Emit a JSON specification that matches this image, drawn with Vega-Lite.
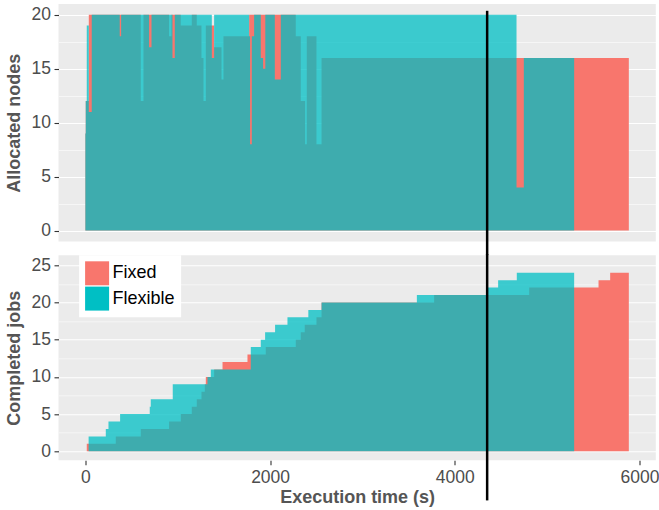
{
  "$schema": "https://vega.github.io/schema/vega-lite/v6.json",
  "padding": {"left": 4.5, "top": 4, "right": 2, "bottom": 4},
  "background": "white",
  "datasets": {
    "alloc": [
      {"t": 0, "n": 9, "type": "Fixed"}, {"t": 4, "n": 12, "type": "Fixed"}, {"t": 37, "n": 20, "type": "Fixed"},
      {"t": 600, "n": 12, "type": "Fixed"}, {"t": 629, "n": 20, "type": "Fixed"}, {"t": 906, "n": 18, "type": "Fixed"},
      {"t": 932, "n": 20, "type": "Fixed"}, {"t": 1033, "n": 19, "type": "Fixed"}, {"t": 1152, "n": 20, "type": "Fixed"},
      {"t": 1206, "n": 19, "type": "Fixed"}, {"t": 1257, "n": 16, "type": "Fixed"}, {"t": 1279, "n": 12, "type": "Fixed"},
      {"t": 1304, "n": 19, "type": "Fixed"}, {"t": 1394, "n": 17, "type": "Fixed"}, {"t": 1474, "n": 14, "type": "Fixed"},
      {"t": 1495, "n": 18, "type": "Fixed"}, {"t": 1773, "n": 20, "type": "Fixed"}, {"t": 2278, "n": 18, "type": "Fixed"},
      {"t": 2332, "n": 12, "type": "Fixed"}, {"t": 2379, "n": 8, "type": "Fixed"}, {"t": 2397, "n": 18, "type": "Fixed"},
      {"t": 2502, "n": 8, "type": "Fixed"}, {"t": 2557, "n": 16, "type": "Fixed"}, {"t": 5884, "n": 16, "type": "Fixed"},
      {"t": 0, "n": 9, "type": "Flexible"}, {"t": 4, "n": 12, "type": "Flexible"}, {"t": 15, "n": 19, "type": "Flexible"},
      {"t": 37, "n": 11, "type": "Flexible"}, {"t": 69, "n": 20, "type": "Flexible"}, {"t": 372, "n": 18, "type": "Flexible"},
      {"t": 387, "n": 20, "type": "Flexible"}, {"t": 690, "n": 17, "type": "Flexible"}, {"t": 716, "n": 20, "type": "Flexible"},
      {"t": 943, "n": 16, "type": "Flexible"}, {"t": 968, "n": 20, "type": "Flexible"}, {"t": 1369, "n": 16, "type": "Flexible"},
      {"t": 1394, "n": 20, "type": "Flexible"}, {"t": 1773, "n": 18, "type": "Flexible"}, {"t": 1783, "n": 8, "type": "Flexible"},
      {"t": 1802, "n": 18, "type": "Flexible"}, {"t": 1827, "n": 20, "type": "Flexible"}, {"t": 1899, "n": 16, "type": "Flexible"},
      {"t": 1924, "n": 15, "type": "Flexible"}, {"t": 1948, "n": 20, "type": "Flexible"}, {"t": 2051, "n": 14, "type": "Flexible"},
      {"t": 2116, "n": 20, "type": "Flexible"}, {"t": 4668, "n": 4, "type": "Flexible"}, {"t": 4747, "n": 16, "type": "Flexible"},
      {"t": 5292, "n": 16, "type": "Flexible"}
    ],
    "jobs": [
      {"t": 0, "c": 0, "type": "Fixed"}, {"t": 15, "c": 1, "type": "Fixed"}, {"t": 329, "c": 2, "type": "Fixed"},
      {"t": 600, "c": 3, "type": "Fixed"}, {"t": 906, "c": 4, "type": "Fixed"}, {"t": 1033, "c": 5, "type": "Fixed"},
      {"t": 1152, "c": 6, "type": "Fixed"}, {"t": 1206, "c": 7, "type": "Fixed"}, {"t": 1257, "c": 8, "type": "Fixed"},
      {"t": 1293, "c": 9, "type": "Fixed"}, {"t": 1304, "c": 10, "type": "Fixed"}, {"t": 1394, "c": 11, "type": "Fixed"},
      {"t": 1485, "c": 12, "type": "Fixed"}, {"t": 1755, "c": 13, "type": "Fixed"}, {"t": 1953, "c": 14, "type": "Fixed"},
      {"t": 2278, "c": 15, "type": "Fixed"}, {"t": 2332, "c": 16, "type": "Fixed"}, {"t": 2375, "c": 17, "type": "Fixed"},
      {"t": 2502, "c": 18, "type": "Fixed"}, {"t": 2557, "c": 20, "type": "Fixed"}, {"t": 3776, "c": 21, "type": "Fixed"},
      {"t": 4805, "c": 22, "type": "Fixed"}, {"t": 5556, "c": 23, "type": "Fixed"}, {"t": 5682, "c": 24, "type": "Fixed"},
      {"t": 5884, "c": 24, "type": "Fixed"},
      {"t": 0, "c": 0, "type": "Flexible"}, {"t": 35, "c": 2, "type": "Flexible"}, {"t": 221, "c": 3, "type": "Flexible"},
      {"t": 250, "c": 4, "type": "Flexible"}, {"t": 376, "c": 5, "type": "Flexible"}, {"t": 697, "c": 6, "type": "Flexible"},
      {"t": 708, "c": 7, "type": "Flexible"}, {"t": 946, "c": 9, "type": "Flexible"}, {"t": 1322, "c": 10, "type": "Flexible"},
      {"t": 1358, "c": 11, "type": "Flexible"}, {"t": 1791, "c": 14, "type": "Flexible"}, {"t": 1899, "c": 15, "type": "Flexible"},
      {"t": 1946, "c": 16, "type": "Flexible"}, {"t": 2054, "c": 17, "type": "Flexible"}, {"t": 2188, "c": 18, "type": "Flexible"},
      {"t": 2414, "c": 19, "type": "Flexible"}, {"t": 2557, "c": 20, "type": "Flexible"}, {"t": 3589, "c": 21, "type": "Flexible"},
      {"t": 4350, "c": 22, "type": "Flexible"}, {"t": 4469, "c": 23, "type": "Flexible"}, {"t": 4671, "c": 24, "type": "Flexible"},
      {"t": 5292, "c": 24, "type": "Flexible"}
    ],
    "marker": [{"t": 4350}]
  },
  "config": {
    "font": "Liberation Sans",
    "view": {"fill": "#EBEBEB", "stroke": null},
    "axis": {
      "gridColor": "white", "gridWidth": 1.1, "domain": false,
      "tickColor": "#333333", "tickSize": 4.5, "tickWidth": 1.1,
      "labelFont": "Liberation Sans", "labelFontSize": 17.5, "labelColor": "#4D4D4D", "labelPadding": 3.6,
      "titleFont": "Liberation Sans", "titleFontSize": 18, "titleFontWeight": "bold", "titleColor": "#555555"
    }
  },
  "spacing": 13.3,
  "bounds": "flush",
  "resolve": {"scale": {"color": "independent"}, "legend": {"color": "independent"}},
  "vconcat": [
    {
      "width": 597.3,
      "height": 237.4,
      "resolve": {"axis": {"y": "independent"}},
      "layer": [
        {
          "data": {"name": "alloc"},
          "transform": [{"filter": "datum.type === 'Fixed'"}],
          "mark": {"type": "area", "interpolate": "step-after"},
          "encoding": {
            "x": {"field": "t", "type": "quantitative", "scale": {"domain": [-291, 6176], "nice": false, "zero": false}, "axis": null},
            "y": {"field": "n", "type": "quantitative", "stack": null, "scale": {"domain": [-1, 21], "nice": false, "zero": false},
                  "axis": {"orient": "left", "values": [0, 5, 10, 15, 20], "title": "Allocated nodes", "titlePadding": 7.5, "grid": true}},
            "y2": {"datum": 0},
            "color": {"field": "type", "type": "nominal", "scale": {"domain": ["Fixed", "Flexible"], "range": ["#F8766D", "#00BFC4"]}, "legend": null}
          }
        },
        {
          "data": {"name": "alloc"},
          "transform": [{"filter": "datum.type === 'Flexible'"}],
          "mark": {"type": "area", "interpolate": "step-after", "fillOpacity": 0.75},
          "encoding": {
            "x": {"field": "t", "type": "quantitative"},
            "y": {"field": "n", "type": "quantitative", "stack": null,
                  "axis": {"orient": "left", "values": [2.5, 7.5, 12.5, 17.5], "title": null, "labels": false, "ticks": false, "grid": true, "gridWidth": 0.55}},
            "y2": {"datum": 0},
            "color": {"field": "type", "type": "nominal", "legend": null}
          }
        },
        {
          "data": {"name": "marker"},
          "mark": {"type": "rule", "color": "black", "strokeWidth": 2.5, "clip": false},
          "encoding": {
            "x": {"field": "t", "type": "quantitative"},
            "y": {"datum": 20.37, "axis": null},
            "y2": {"datum": -2.3}
          }
        }
      ]
    },
    {
      "width": 597.3,
      "height": 205,
      "resolve": {"axis": {"y": "independent"}},
      "layer": [
        {
          "data": {"name": "jobs"},
          "transform": [{"filter": "datum.type === 'Fixed'"}],
          "mark": {"type": "area", "interpolate": "step-after"},
          "encoding": {
            "x": {"field": "t", "type": "quantitative", "scale": {"domain": [-291, 6176], "nice": false, "zero": false},
                  "axis": {"values": [0, 2000, 4000, 6000], "format": "d", "title": "Execution time (s)", "grid": false, "titlePadding": 3}},
            "y": {"field": "c", "type": "quantitative", "stack": null, "scale": {"domain": [-1.21, 26.34], "nice": false, "zero": false},
                  "axis": {"orient": "left", "values": [0, 5, 10, 15, 20, 25], "title": "Completed jobs", "titlePadding": 7.5, "grid": true}},
            "y2": {"datum": 0},
            "color": {"field": "type", "type": "nominal", "scale": {"domain": ["Fixed", "Flexible"], "range": ["#F8766D", "#00BFC4"]},
                      "legend": {"title": null, "orient": "none", "legendX": 20.6, "legendY": 0, "fillColor": "white", "padding": 6,
                                 "symbolType": "square", "symbolSize": 576, "symbolStrokeWidth": 0, "symbolOpacity": 1, "symbolFillOpacity": 1,
                                 "labelFont": "Liberation Sans", "labelFontSize": 18, "labelColor": "black", "rowPadding": 1.3, "labelOffset": 3.5}}
          }
        },
        {
          "data": {"name": "jobs"},
          "transform": [{"filter": "datum.type === 'Flexible'"}],
          "mark": {"type": "area", "interpolate": "step-after", "fillOpacity": 0.75},
          "encoding": {
            "x": {"field": "t", "type": "quantitative"},
            "y": {"field": "c", "type": "quantitative", "stack": null,
                  "axis": {"orient": "left", "values": [2.5, 7.5, 12.5, 17.5, 22.5], "title": null, "labels": false, "ticks": false, "grid": true, "gridWidth": 0.55}},
            "y2": {"datum": 0},
            "color": {"field": "type", "type": "nominal"}
          }
        },
        {
          "data": {"name": "marker"},
          "mark": {"type": "rule", "color": "black", "strokeWidth": 2.5, "clip": false},
          "encoding": {
            "x": {"field": "t", "type": "quantitative"},
            "y": {"datum": 26.5, "axis": null},
            "y2": {"datum": -6.6}
          }
        }
      ]
    }
  ]
}
